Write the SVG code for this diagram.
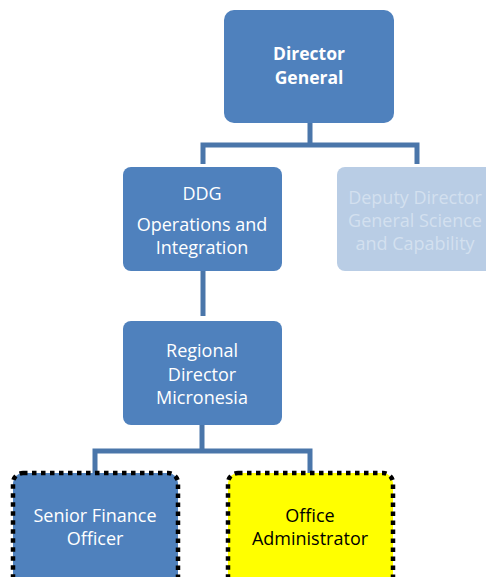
<svg xmlns="http://www.w3.org/2000/svg" width="486" height="577" viewBox="0 0 486 577">
<style>
.box{fill:#4f81bd;}
.t{font-family:"Open Sans","Liberation Sans",sans-serif;font-size:18px;fill:#ffffff;text-anchor:middle;}
.b{font-weight:bold;font-size:17.5px;}
.c{fill:none;stroke:#4a76aa;stroke-width:5;}
.dot{stroke:#000000;stroke-width:4.5;stroke-dasharray:4.5 4.5;}
.lt{fill:#d3e0ef;}
.dk{fill:#000000;}
</style>
<rect width="486" height="577" fill="#ffffff"/>
<g id="connectors">
<path class="c" d="M310 123 V145 M203 164 V145 H417 V164"/>
<path class="c" d="M203 271 V316"/>
<path class="c" d="M202 425 V451 M95 474 V451 H310 V474"/>
</g>
<g id="director-general">
<rect class="box" x="224" y="10" width="170" height="113" rx="10"/>
<text class="t b" x="309" y="60">Director</text>
<text class="t b" x="309" y="84">General</text>
</g>
<g id="ddg">
<rect class="box" x="123" y="167" width="159" height="104" rx="8"/>
<text class="t" x="202" y="200">DDG</text>
<text class="t" x="202" y="231">Operations and</text>
<text class="t" x="202" y="254">Integration</text>
</g>
<g id="deputy-director">
<rect x="337" y="167" width="170" height="104" rx="8" fill="#b9cde5"/>
<text class="t lt" x="415" y="204">Deputy Director</text>
<text class="t lt" x="415" y="227">General Science</text>
<text class="t lt" x="415" y="250">and Capability</text>
</g>
<g id="regional-director">
<rect class="box" x="123" y="321" width="159" height="104" rx="8"/>
<text class="t" x="202" y="357">Regional</text>
<text class="t" x="202" y="381">Director</text>
<text class="t" x="202" y="404">Micronesia</text>
</g>
<g id="senior-finance-officer">
<rect class="box dot" x="13" y="473" width="165" height="120" rx="10"/>
<text class="t" x="95" y="522">Senior Finance</text>
<text class="t" x="95" y="545">Officer</text>
</g>
<g id="office-administrator">
<rect class="dot" x="228" y="473" width="165" height="120" rx="10" fill="#ffff00"/>
<text class="t dk" x="310" y="522">Office</text>
<text class="t dk" x="310" y="545">Administrator</text>
</g>
</svg>
